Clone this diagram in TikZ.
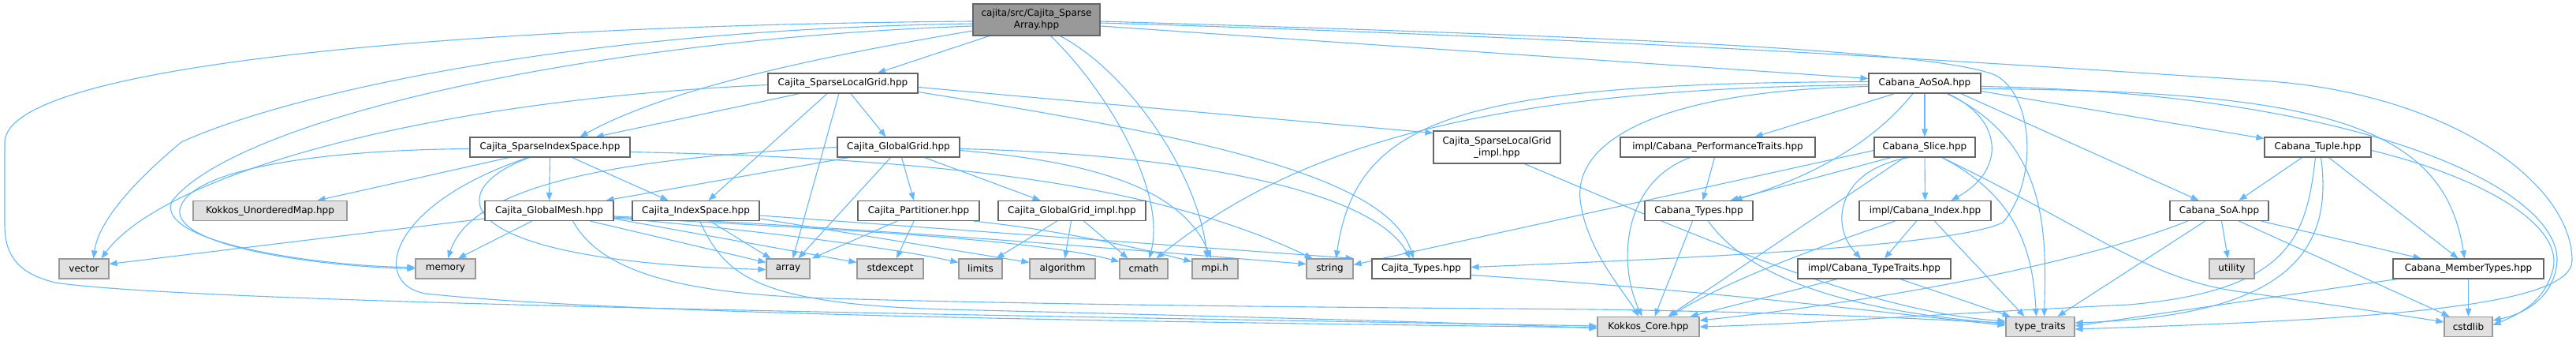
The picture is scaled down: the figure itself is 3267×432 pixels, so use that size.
\documentclass[tikz,border=0pt]{standalone}
\usepackage{fontspec}
\newfontfamily\dxfam{DejaVu Sans}
\usetikzlibrary{arrows.meta,calc,backgrounds}
\definecolor{edgec}{HTML}{63B8FF}
\definecolor{gfill}{HTML}{E0E0E0}
\definecolor{gdraw}{HTML}{999999}
\definecolor{wdraw}{HTML}{666666}
\definecolor{tfill}{HTML}{999999}
\newcommand\dxfont{\dxfam\fontsize{6}{7.5}\selectfont}
\begin{document}
\begin{tikzpicture}[x=0.5pt,y=-0.5pt,
  wbox/.style={draw=wdraw, fill=white, line width=0.6pt, inner sep=0pt, minimum height=12.5pt, font=\dxfont, align=center, text=black},
  gbox/.style={wbox, draw=gdraw, fill=gfill},
  tbox/.style={wbox, fill=tfill},
  e/.style={draw=edgec, line width=0.55pt, -{Triangle[length=5pt,width=3.8pt]}}]
\useasboundingbox (0,0) rectangle (3267,432);
% row 0
\node[tbox, minimum width=80.5pt, minimum height=20pt] (T) at (1314.5,25) {cajita/src/Cajita\_Sparse\\Array.hpp};
% row 1
\node[wbox, minimum width=95pt] (SLG) at (1069,105.5) {Cajita\_SparseLocalGrid.hpp};
\node[wbox, minimum width=71pt] (AoSoA) at (2441,105.5) {Cabana\_AoSoA.hpp};
% row 2
\node[wbox, minimum width=101.5pt] (SIS) at (697.5,186.5) {Cajita\_SparseIndexSpace.hpp};
\node[wbox, minimum width=77.5pt] (GG) at (1139.5,186.5) {Cajita\_GlobalGrid.hpp};
\node[wbox, minimum width=80.5pt, minimum height=20.5pt] (SLGi) at (1898.5,186.5) {Cajita\_SparseLocalGrid\\\_impl.hpp};
\node[wbox, minimum width=123.5pt] (PT) at (2178.5,186.5) {impl/Cabana\_PerformanceTraits.hpp};
\node[wbox, minimum width=64pt] (Slice) at (2441,186.5) {Cabana\_Slice.hpp};
\node[wbox, minimum width=67.5pt] (Tuple) at (2939.5,186.5) {Cabana\_Tuple.hpp};
% row 3
\node[gbox, minimum width=97.5pt] (KUM) at (342.5,267) {Kokkos\_UnorderedMap.hpp};
\node[wbox, minimum width=81.5pt] (GM) at (696.5,267) {Cajita\_GlobalMesh.hpp};
\node[wbox, minimum width=80.5pt] (IS) at (882.5,267) {Cajita\_IndexSpace.hpp};
\node[wbox, minimum width=77pt] (Part) at (1165,267) {Cajita\_Partitioner.hpp};
\node[wbox, minimum width=93.5pt] (GGi) at (1359.5,267) {Cajita\_GlobalGrid\_impl.hpp};
\node[wbox, minimum width=68.5pt] (CT) at (2154.5,267) {Cabana\_Types.hpp};
\node[wbox, minimum width=83.5pt] (Idx) at (2441.5,267) {impl/Cabana\_Index.hpp};
\node[wbox, minimum width=62.5pt] (SoA) at (2814.5,267) {Cabana\_SoA.hpp};
% row 4
\node[gbox, minimum width=31.5pt] (vector) at (106.5,340.5) {vector};
\node[gbox, minimum width=38pt] (memory) at (565,340.5) {memory};
\node[gbox, minimum width=27.5pt] (array) at (999.5,340.5) {array};
\node[gbox, minimum width=42pt] (stdexcept) at (1129,340.5) {stdexcept};
\node[gbox, minimum width=27.5pt] (limits) at (1243.5,340.5) {limits};
\node[gbox, minimum width=41.5pt] (algorithm) at (1347.5,340.5) {algorithm};
\node[gbox, minimum width=30.5pt] (cmath) at (1450.5,340.5) {cmath};
\node[gbox, minimum width=29pt] (mpi) at (1541,340.5) {mpi.h};
\node[gbox, minimum width=29.5pt] (string) at (1686.5,340.5) {string};
\node[wbox, minimum width=62.5pt] (JT) at (1802.5,340.5) {Cajita\_Types.hpp};
\node[wbox, minimum width=97pt] (TT) at (2377,340.5) {impl/Cabana\_TypeTraits.hpp};
\node[gbox, minimum width=28.5pt] (utility) at (2830.5,340.5) {utility};
\node[wbox, minimum width=95.5pt] (MT) at (3130.5,340.5) {Cabana\_MemberTypes.hpp};
% row 5
\node[gbox, minimum width=64.5pt] (KC) at (2090.5,414) {Kokkos\_Core.hpp};
\node[gbox, minimum width=43.5pt] (tt) at (2587.5,414) {type\_traits};
\node[gbox, minimum width=30.5pt] (cstdlib) at (3130.5,414) {cstdlib};

\begin{scope}[on background layer]
% ---- top node
\draw[e] ($(T.south)+(-60,0)$) -- ($(SLG.north)+(44,0)$);
\draw[e] ($(T.west)+(0,14)$) .. controls (1050,70) and (850,110) .. ($(SIS.north)+(38,0)$);
\draw[e] ($(T.east)+(0,8)$) -- ($(AoSoA.west)+(0,-6)$);
\draw[e] ($(T.east)+(0,2)$) .. controls (2000,45) and (2450,62) .. (2530,95) .. controls (2580,120) and (2585,230) .. (2540,282) .. controls (2480,310) and (2200,325) .. ($(JT.east)+(0,-2)$);
\draw[e] ($(T.east)+(0,4)$) .. controls (2100,50) and (2600,85) .. (2864,102) .. controls (3100,115) and (3262,230) .. (3262,330) .. controls (3262,390) and (3000,405) .. ($(tt.east)+(0,3)$);
\draw[e] ($(T.west)+(0,5)$) .. controls (700,38) and (350,125) .. (230,180) .. controls (170,230) and (125,280) .. ($(vector.north)+(12,0)$);
\draw[e] ($(T.west)+(0,8)$) .. controls (750,50) and (300,150) .. (218,255) .. controls (195,310) and (420,338) .. ($(memory.west)+(0,-2)$);
\draw[e] ($(T.west)+(0,2)$) .. controls (600,32) and (8,80) .. (6,180) -- (6,285) .. controls (6,330) and (30,348) .. (70,358) .. controls (250,385) and (1300,400) .. ($(KC.west)+(0,-1)$);
\draw[e] ($(T.south)+(18,0)$) .. controls (1400,110) and (1480,240) .. ($(cmath.north)+(7,0)$);
\draw[e] ($(T.south)+(30,0)$) .. controls (1430,90) and (1520,220) .. ($(mpi.north)+(-10,0)$);
% ---- SparseLocalGrid
\draw[e] ($(SLG.south)+(-55,0)$) -- ($(SIS.north)+(58,0)$);
\draw[e] ($(SLG.south)+(-20,0)$) -- ($(IS.north)+(16,0)$);
\draw[e] ($(SLG.south)+(-5,0)$) -- ($(array.north)+(6,0)$);
\draw[e] ($(SLG.south)+(10,0)$) -- ($(GG.north)+(-16,0)$);
\draw[e] ($(SLG.west)+(0,2)$) .. controls (500,130) and (200,230) .. ($(vector.north)+(22,0)$);
\draw[e] ($(SLG.east)+(0,5)$) -- ($(SLGi.west)+(0,-18)$);
\draw[e] ($(SLG.east)+(0,11)$) .. controls (1500,170) and (1760,220) .. ($(JT.north)+(-10,0)$);
% ---- SparseIndexSpace
\draw[e] ($(SIS.south)+(-52,0)$) -- ($(KUM.north)+(60,0)$);
\draw[e] (SIS.south) -- (GM.north);
\draw[e] ($(SIS.south)+(28,0)$) -- ($(IS.north)+(-35,0)$);
\draw[e] ($(SIS.west)+(0,2)$) .. controls (400,190) and (240,215) .. (228,265) .. controls (220,315) and (420,338) .. (memory.west);
\draw[e] ($(SIS.east)+(0,6)$) .. controls (1150,200) and (1450,225) .. ($(string.north)+(-22,0)$);
\draw[e] ($(SIS.south)+(-26,0)$) .. controls (560,240) and (560,330) .. ($(array.west)+(0,1)$);
\draw[e] ($(SIS.south)+(-28,0)$) .. controls (490,260) and (470,360) .. (540,372) .. controls (800,400) and (1500,408) .. ($(KC.west)+(0,1)$);
% ---- GlobalGrid
\draw[e] (GG.west) .. controls (800,200) and (600,230) .. ($(memory.north)+(3,0)$);
\draw[e] ($(GG.south)+(-63,0)$) -- ($(GM.north east)+(-10,0)$);
\draw[e] ($(GG.south)+(-10,0)$) -- ($(array.north)+(13,0)$);
\draw[e] ($(GG.south)+(4,0)$) -- ($(Part.north)+(-6,0)$);
\draw[e] ($(GG.south)+(33,0)$) -- ($(GGi.north)+(-40,0)$);
\draw[e] ($(GG.east)+(0,4)$) .. controls (1390,205) and (1500,240) .. ($(mpi.north)+(-5,0)$);
\draw[e] ($(GG.east)+(0,2)$) .. controls (1500,195) and (1740,240) .. ($(JT.north)+(-14,0)$);
% ---- GlobalMesh
\draw[e] ($(GM.south)+(-22,0)$) -- ($(memory.north)+(16,0)$);
\draw[e] ($(GM.west)+(0,10)$) -- ($(vector.east)+(0,-6)$);
\draw[e] ($(GM.south east)+(-30,0)$) -- ($(array.west)+(0,-8)$);
\draw[e] ($(GM.east)+(0,10)$) -- ($(stdexcept.west)+(0,-8)$);
\draw[e] ($(GM.east)+(0,9)$) .. controls (1000,295) and (1150,318) .. ($(limits.west)+(0,-8)$);
\draw[e] ($(GM.east)+(0,8)$) .. controls (1000,288) and (1300,300) .. ($(cmath.west)+(0,-9)$);
\draw[e] ($(GM.east)+(0,7)$) .. controls (1100,288) and (1500,322) .. ($(string.west)+(0,-6)$);
\draw[e] ($(GM.south)+(30,0)$) .. controls (760,340) and (850,372) .. (1050,378) .. controls (1400,388) and (1800,390) .. (2020,392) .. controls (2300,396) and (2450,405) .. ($(tt.west)+(0,-5)$);
% ---- IndexSpace
\draw[e] ($(IS.south)+(18,0)$) -- ($(array.north west)+(6,0)$);
\draw[e] ($(IS.east)+(0,10)$) -- ($(algorithm.west)+(0,-8)$);
\draw[e] ($(IS.east)+(0,6)$) -- (string.north east);
\draw[e] ($(IS.south)+(5,0)$) .. controls (920,350) and (960,385) .. (1200,392) .. controls (1600,402) and (1900,410) .. ($(KC.west)+(0,2)$);
% ---- Partitioner
\draw[e] ($(Part.south)+(-27,0)$) -- ($(array.north east)+(2,0)$);
\draw[e] ($(Part.south)+(-6,0)$) -- ($(stdexcept.north)+(8,0)$);
\draw[e] ($(Part.south east)+(-8,0)$) .. controls (1350,292) and (1460,318) .. ($(mpi.west)+(0,-9)$);
% ---- GlobalGrid_impl
\draw[e] ($(GGi.south)+(-19,0)$) -- ($(limits.north)+(20,0)$);
\draw[e] ($(GGi.south)+(-1,0)$) -- ($(algorithm.north)+(3,0)$);
\draw[e] ($(GGi.south)+(15,0)$) -- ($(cmath.north)+(-20,0)$);
% ---- SparseLocalGrid_impl, Cajita_Types
\draw[e] ($(SLGi.south)+(35,0)$) .. controls (2200,320) and (2380,395) .. ($(tt.west)+(0,-7)$);
\draw[e] ($(JT.east)+(0,8)$) .. controls (2200,370) and (2400,398) .. ($(tt.west)+(0,-2)$);
% ---- Cabana_Types, PerformanceTraits
\draw[e] ($(CT.south)+(-8,0)$) -- ($(KC.north)+(8,0)$);
\draw[e] ($(CT.south)+(12,0)$) .. controls (2230,370) and (2400,398) .. ($(tt.west)+(0,-4)$);
\draw[e] ($(PT.south)+(-4,0)$) -- ($(CT.north)+(5,0)$);
\draw[e] ($(PT.south)+(-35,0)$) .. controls (2060,230) and (2050,330) .. ($(KC.north)+(-8,0)$);
% ---- AoSoA
\draw[e] ($(AoSoA.south)+(-38,0)$) -- ($(PT.north)+(47,0)$);
\draw[e] (AoSoA) -- (Slice);
\draw[e] ($(AoSoA.south)+(29,0)$) .. controls (2540,150) and (2545,215) .. ($(Idx.north)+(33,0)$);
\draw[e] ($(AoSoA.south)+(28,0)$) .. controls (2600,180) and (2595,300) .. ($(tt.north)+(5,0)$);
\draw[e] ($(AoSoA.south)+(46,0)$) -- ($(SoA.north)+(-26,0)$);
\draw[e] ($(AoSoA.east)+(0,10)$) -- ($(Tuple.west)+(0,-11)$);
\draw[e] ($(AoSoA.east)+(0,7)$) .. controls (2950,115) and (3100,160) .. ($(MT.north)+(-5,0)$);
\draw[e] ($(AoSoA.east)+(0,4)$) .. controls (3000,118) and (3245,240) .. (3243,330) .. controls (3240,378) and (3200,398) .. ($(cstdlib.east)+(0,-8)$);
\draw[e] ($(AoSoA.south)+(-15,0)$) .. controls (2360,200) and (2260,235) .. ($(CT.north)+(45,0)$);
\draw[e] ($(AoSoA.west)+(0,4)$) .. controls (2100,115) and (1990,180) .. (2005,260) .. controls (2015,320) and (2060,370) .. ($(KC.north)+(-12,0)$);
\draw[e] ($(AoSoA.west)+(0,-2)$) .. controls (1850,105) and (1720,150) .. ($(string.north)+(8,0)$);
\draw[e] ($(AoSoA.west)+(0,2)$) .. controls (1900,112) and (1650,180) .. ($(cmath.north)+(16,0)$);
% ---- Slice
\draw[e] ($(Slice.south)+(-43,0)$) -- ($(CT.north)+(40,0)$);
\draw[e] (Slice) -- (Idx);
\draw[e] ($(Slice.south)+(-20,0)$) .. controls (2330,215) and (2320,285) .. ($(TT.north)+(-17,0)$);
\draw[e] ($(Slice.south)+(-26,0)$) -- ($(KC.north)+(25,0)$);
\draw[e] ($(Slice.west)+(0,4)$) -- ($(string.east)+(0,-5)$);
\draw[e] ($(Slice.south)+(22,0)$) .. controls (2560,250) and (2578,320) .. ($(tt.north)+(-5,0)$);
\draw[e] ($(Slice.south)+(22,0)$) .. controls (2650,290) and (2720,350) .. (2830,368) .. controls (2950,385) and (3050,400) .. ($(cstdlib.west)+(0,-6)$);
% ---- Index
\draw[e] ($(Idx.south)+(-38,0)$) .. controls (2330,305) and (2200,350) .. ($(KC.north)+(27,0)$);
\draw[e] ($(Idx.south)+(-11,0)$) -- ($(TT.north)+(13,0)$);
\draw[e] ($(Idx.south)+(12,0)$) -- ($(tt.north)+(-20,0)$);
% ---- TypeTraits
\draw[e] ($(TT.south)+(-47,0)$) -- ($(KC.north east)+(-12,0)$);
\draw[e] ($(TT.south)+(33,0)$) -- ($(tt.north)+(-38,0)$);
% ---- SoA
\draw[e] ($(SoA.south)+(-40,0)$) .. controls (2650,330) and (2400,380) .. ($(KC.east)+(0,-8)$);
\draw[e] ($(SoA.south)+(-18,0)$) -- ($(tt.north)+(22,0)$);
\draw[e] ($(SoA.south)+(3,0)$) -- ($(utility.north)+(-5,0)$);
\draw[e] ($(SoA.south)+(25,0)$) -- ($(cstdlib.north)+(-24,0)$);
\draw[e] ($(SoA.south east)+(-10,0)$) -- ($(MT.north)+(-60,0)$);
% ---- Tuple
\draw[e] ($(Tuple.south)+(-20,0)$) -- ($(SoA.north)+(25,0)$);
\draw[e] ($(Tuple.south)+(14,0)$) -- ($(MT.north)+(-13,0)$);
\draw[e] ($(Tuple.south)+(-3,0)$) .. controls (2925,300) and (2905,368) .. (2700,386) .. controls (2450,398) and (2300,410) .. (KC.east);
\draw[e] ($(Tuple.south)+(4,0)$) .. controls (2960,320) and (2900,400) .. ($(tt.east)+(0,-5)$);
\draw[e] ($(Tuple.east)+(0,4)$) .. controls (3150,225) and (3250,285) .. (3238,340) .. controls (3228,382) and (3195,398) .. ($(cstdlib.east)+(0,-2)$);
% ---- MemberTypes
\draw[e] (MT) -- (cstdlib);
\draw[e] ($(MT.south west)+(5,0)$) -- ($(tt.east)+(0,-1)$);
\end{scope}
\end{tikzpicture}
\end{document}
